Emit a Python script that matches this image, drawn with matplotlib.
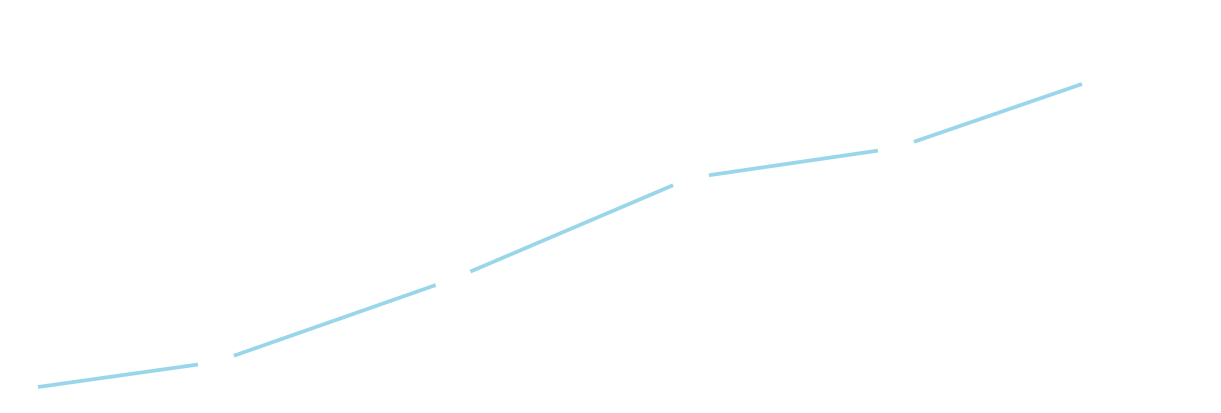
import matplotlib
matplotlib.use("Agg")
import matplotlib.pyplot as plt

xs = [38, 216, 453, 690, 896, 1082]
ys = [26, 51, 134, 235, 265, 329]

fig = plt.figure(figsize=(12.21, 4.13), dpi=100)
ax = fig.add_axes([0, 0, 1, 1])
ax.plot(xs, ys, color='#9ad6e9', linewidth=2.7, solid_capstyle='butt',
        marker='o', markersize=27, markerfacecolor='white',
        markeredgewidth=0, markevery=[1, 2, 3, 4])
ax.set_xlim(0, 1221)
ax.set_ylim(0, 413)
ax.axis('off')
fig.savefig('out.png', dpi=100, facecolor='white')
